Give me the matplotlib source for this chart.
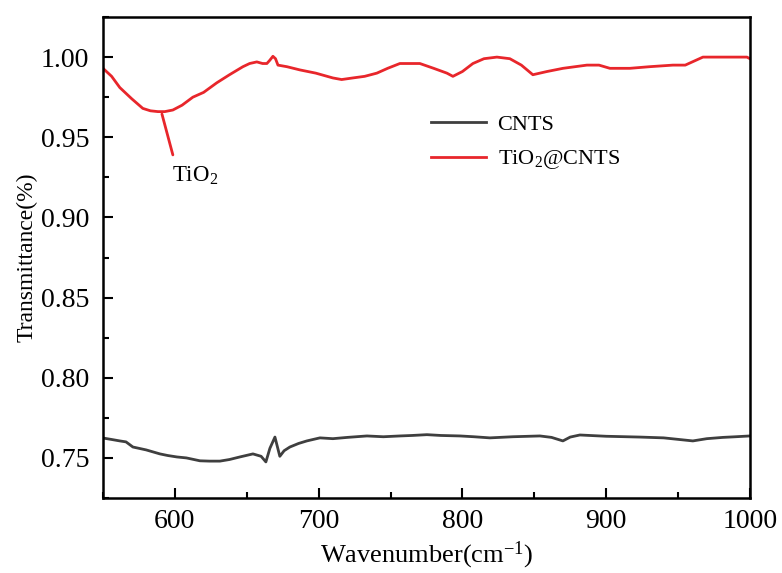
import matplotlib
matplotlib.use("Agg")
import matplotlib.pyplot as plt
from matplotlib.ticker import MultipleLocator, FormatStrFormatter

plt.rcParams['font.family'] = ['Liberation Serif', 'DejaVu Serif']
plt.rcParams['mathtext.fontset'] = 'custom'
plt.rcParams['mathtext.rm'] = 'Liberation Serif'
plt.rcParams['mathtext.it'] = 'Liberation Serif:italic'

# TiO2@CNTS (red)
wn_red = [550, 556, 561.7, 570, 577.7, 583, 588.2, 593, 598.6, 605, 612.5, 620, 629.2, 638, 647.3, 652, 657, 661, 664, 666, 668.2,
          670, 671.7, 678, 687, 698, 709.9, 716, 723.8, 732, 740.5, 748, 756.5, 763, 770.4, 780, 789.2, 793.4,
          800, 807.3, 815, 824, 833, 841, 849, 858.8, 870, 886.6, 895, 902.6, 910, 916.5, 930, 946.4,
          955, 967.3, 980, 997.9, 1000]
t_red = [0.993, 0.988, 0.981, 0.974, 0.968, 0.9665, 0.966, 0.966, 0.967, 0.970, 0.975, 0.978, 0.984, 0.989, 0.994, 0.996, 0.997, 0.996, 0.996, 0.998, 1.0005,
         0.999, 0.995, 0.994, 0.992, 0.990, 0.987, 0.986, 0.987, 0.988, 0.990, 0.993, 0.996, 0.996, 0.996, 0.993, 0.990, 0.988,
         0.991, 0.996, 0.999, 1.000, 0.999, 0.995, 0.989, 0.991, 0.993, 0.995, 0.995, 0.993, 0.993, 0.993, 0.994, 0.995,
         0.995, 1.000, 1.000, 1.000, 0.999]

# CNTS (dark gray)
wn_blk = [550, 556, 561.7, 566, 570.8, 580, 589.6, 595, 601.4, 608, 617.4, 624, 631.3, 638, 645.2, 654.3, 660,
          663.3, 666.1, 669.6, 673, 676, 680, 686, 691.8, 700.9, 709.9, 720, 733.6, 745, 756.5, 765, 775.3,
          785, 798.3, 808, 819.1, 835, 853.9, 862, 869.9, 875, 881.7, 900, 923.5, 940, 960.3, 970, 981.2, 990, 1000]
t_blk = [0.7624, 0.7615, 0.7606, 0.7600, 0.7568, 0.7550, 0.7525, 0.7515, 0.7506, 0.7500, 0.7482, 0.7480, 0.7480, 0.7490, 0.7506, 0.7525, 0.7510,
         0.7475, 0.7560, 0.7630, 0.7510, 0.7545, 0.7568, 0.7590, 0.7606, 0.7625, 0.7620, 0.7628, 0.7637, 0.7632, 0.7637, 0.7640, 0.7645,
         0.7640, 0.7637, 0.7632, 0.7625, 0.7632, 0.7637, 0.7628, 0.7606, 0.7630, 0.7643, 0.7635, 0.7630, 0.7625, 0.7606, 0.7620, 0.7628, 0.7632, 0.7637]

fig = plt.figure(figsize=(7.82, 5.73), dpi=100)
ax = fig.add_axes([0.1317, 0.1309, 0.8273, 0.8394])

ax.plot(wn_blk, t_blk, color='#3f3f3f', lw=2.0, label='CNTS')
ax.plot(wn_red, t_red, color='#e8262b', lw=2.0, label='TiO$_2$@CNTS')

ax.set_xlim(550, 1000)
ax.set_ylim(0.725, 1.025)
ax.xaxis.set_major_locator(MultipleLocator(100))
ax.xaxis.set_minor_locator(MultipleLocator(50))
ax.yaxis.set_major_locator(MultipleLocator(0.05))
ax.yaxis.set_minor_locator(MultipleLocator(0.025))
ax.yaxis.set_major_formatter(FormatStrFormatter('%.2f'))
ax.xaxis.set_major_formatter(FormatStrFormatter('%d'))
ax.tick_params(which='both', direction='in', top=False, right=False, width=1.5)
ax.tick_params(which='major', length=7, labelsize=20)
ax.tick_params(axis='y', which='major', pad=10)
ax.tick_params(axis='x', which='major', pad=8)
ax.tick_params(which='minor', length=4)
for lbl in ax.get_xticklabels() + ax.get_yticklabels():
    lbl.set_fontfamily('Liberation Serif')
for s in ax.spines.values():
    s.set_linewidth(1.8)

ax.set_xlabel('Wavenumber(cm$^{-1}$)', fontsize=19, labelpad=4)
ax.set_ylabel('Transmittance(%)', fontsize=17, labelpad=2)

ax.annotate('', xy=(591, 0.9645), xytext=(598.6, 0.939),
            arrowprops=dict(arrowstyle='-', color='#e8262b', lw=2.0, shrinkA=0, shrinkB=0))
ax.text(614, 0.926, 'TiO$_2$', fontsize=16.5, ha='center', va='center')

leg = ax.legend(loc='upper left', bbox_to_anchor=(0.476, 0.84), frameon=False, fontsize=16,
                handlelength=2.5, handletextpad=0.5, labelspacing=0.62)

fig.savefig('out.png', dpi=100)
